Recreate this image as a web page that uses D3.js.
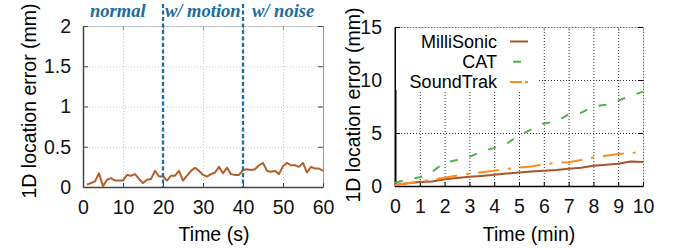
<!DOCTYPE html>
<html>
<head>
<meta charset="utf-8">
<script src="https://cdn.jsdelivr.net/npm/d3@7"></script>
<style>
  body { margin: 0; background: #fff; }
  svg { display: block; font-family: "Liberation Sans", Arial, sans-serif; }
</style>
</head>
<body>
<svg id="chart" width="680" height="248"></svg>
<script>
// left panel: error over time (s), three phases
const secTimes = [1,2,3,4,5,6,7,8,9,10,11,12,13,14,15,16,17,18,19,20,
  21,22,23,24,25,26,27,28,29,30,31,32,33,34,35,36,37,38,39,40,
  41,42,43,44,45,46,47,48,49,50,51,52,53,54,55,56,57,58,59,60]
const secErrors = [0.03,0.05,0.07,0.17,0.01,0.09,0.11,0.08,0.08,0.08,
  0.15,0.14,0.16,0.10,0.05,0.09,0.10,0.20,0.13,0.13,
  0.08,0.14,0.14,0.20,0.08,0.14,0.20,0.24,0.20,0.15,
  0.13,0.16,0.18,0.25,0.17,0.24,0.16,0.15,0.15,0.21,
  0.22,0.21,0.22,0.27,0.30,0.20,0.19,0.20,0.16,0.26,
  0.30,0.27,0.27,0.25,0.30,0.18,0.25,0.23,0.23,0.20]
const phaseBreaks = [20, 40]
const phaseLabels = ['normal', 'w/ motion', 'w/ noise']
const phaseLabelX = [0, 20, 40]
const leftXTicks = [0, 10, 20, 30, 40, 50, 60]
const leftYTicks = [0, 0.5, 1, 1.5, 2]

// right panel: drift over time (min)
const minTimes = [0,0.5,1,1.5,2,2.5,3,3.5,4,4.5,5,5.5,6,6.5,7,7.5,8,8.5,9,9.5,10]
const milliSonic = [0.1,0.25,0.38,0.42,0.63,0.75,0.87,0.95,1.05,1.17,1.27,1.36,1.45,1.5,1.62,1.72,1.9,2.0,2.1,2.3,2.27]
const cat = [0.3,0.6,0.82,1.35,2.2,2.45,2.75,3.25,3.6,4.0,4.75,5.35,5.9,6.1,6.75,6.9,7.5,7.67,8.05,8.5,8.9]
const soundTrak = [0.1,0.25,0.4,0.62,0.77,0.98,1.15,1.3,1.45,1.62,1.73,1.85,2.05,2.18,2.25,2.45,2.68,2.85,3.02,3.1,3.25]
const seriesNames = ['MilliSonic', 'CAT', 'SoundTrak']
const rightXTicks = [0,1,2,3,4,5,6,7,8,9,10]
const rightYTicks = [0, 5, 10, 15]

const svg = d3.select('#chart')
const fontSize = 19.5

const drawFrame = (g, x, y, xTicks, yTicks, opt) => {
  const [x0, x1] = x.range()
  const [y0, y1] = y.range()
  // grid
  g.append('g')
    .attr('transform', `translate(0,${y0})`)
    .call(d3.axisBottom(x).tickValues(xTicks).tickSize(y1 - y0).tickFormat(''))
    .call(a => a.select('.domain').remove())
    .call(a => a.selectAll('.tick line').attr('stroke', opt.grid).attr('stroke-dasharray', '1,2'))
  g.append('g')
    .attr('transform', `translate(${x0},0)`)
    .call(d3.axisRight(y).tickValues(yTicks).tickSize(x1 - x0).tickFormat(''))
    .call(a => a.select('.domain').remove())
    .call(a => a.selectAll('.tick line').attr('stroke', opt.grid).attr('stroke-dasharray', '1,2'))
  // top / right borders with inward ticks
  g.append('g')
    .attr('transform', `translate(0,${y1})`)
    .call(d3.axisBottom(x).tickValues(xTicks).tickSizeInner(4).tickSizeOuter(0).tickFormat(''))
    .call(a => a.select('.domain').attr('stroke', opt.border).attr('stroke-dasharray', '1,1'))
    .call(a => a.selectAll('.tick line').attr('stroke', opt.border))
  g.append('g')
    .attr('transform', `translate(${x1},0)`)
    .call(d3.axisLeft(y).tickValues(yTicks).tickSizeInner(5).tickSizeOuter(0).tickFormat(''))
    .call(a => a.select('.domain').attr('stroke', opt.border).attr('stroke-dasharray', opt.borderDash))
    .call(a => a.selectAll('.tick line').attr('stroke', opt.axis))
  // bottom / left axes with labels
  g.append('g')
    .attr('transform', `translate(0,${y0})`)
    .call(d3.axisBottom(x).tickValues(xTicks).tickSizeInner(-4).tickSizeOuter(0).tickPadding(13))
    .call(a => a.select('.domain').attr('stroke', opt.axis).attr('stroke-width', 1.5))
    .call(a => a.selectAll('.tick line').attr('stroke', opt.axis))
    .call(a => a.selectAll('text').attr('font-size', fontSize).attr('font-family', null).attr('fill', '#111'))
  g.append('g')
    .attr('transform', `translate(${x0},0)`)
    .call(d3.axisLeft(y).tickValues(yTicks).tickFormat(d3.format('')).tickSizeInner(-5).tickSizeOuter(0).tickPadding(opt.yPad))
    .call(a => a.select('.domain').attr('stroke', opt.axis).attr('stroke-width', opt.leftWidth))
    .call(a => a.selectAll('.tick line').attr('stroke', opt.axis))
    .call(a => a.selectAll('text').attr('font-size', fontSize).attr('font-family', null).attr('fill', '#111'))
}

// left
const xL = d3.scaleLinear().domain([0, 60]).range([83, 323])
const yL = d3.scaleLinear().domain([0, 2]).range([187, 26])
const gL = svg.append('g')
drawFrame(gL, xL, yL, leftXTicks, leftYTicks,
  { grid: '#c8c8c8', border: '#999', borderDash: null, axis: '#444', leftWidth: 1.5, yPad: 12 })

gL.append('path')
  .datum(secTimes.map((t, i) => [t, secErrors[i]]))
  .attr('fill', 'none')
  .attr('stroke', '#b45f2b')
  .attr('stroke-width', 2)
  .attr('stroke-linejoin', 'round')
  .attr('d', d3.line().x(d => xL(d[0])).y(d => yL(d[1])))

phaseBreaks.forEach(b => {
  gL.append('line')
    .attr('x1', xL(b)).attr('x2', xL(b))
    .attr('y1', 4).attr('y2', yL(0))
    .attr('stroke', '#1a6ea0')
    .attr('stroke-width', 2.3)
    .attr('stroke-dasharray', '4,2.5')
})

const phaseShift = [7, 2, 9]
gL.selectAll('.phase')
  .data(phaseLabels)
  .enter().append('text')
  .attr('x', (d, i) => xL(phaseLabelX[i]) + phaseShift[i])
  .attr('y', 17)
  .attr('font-family', '"Liberation Serif", "Times New Roman", serif')
  .attr('font-style', 'italic')
  .attr('font-weight', 'bold')
  .attr('font-size', 18.5)
  .attr('fill', '#1b6c9c')
  .text(d => d)

gL.append('text')
  .attr('transform', 'translate(36,101) rotate(-90)')
  .attr('text-anchor', 'middle')
  .attr('font-size', fontSize)
  .text('1D location error (mm)')
gL.append('text')
  .attr('x', 214).attr('y', 241)
  .attr('text-anchor', 'middle')
  .attr('font-size', fontSize)
  .text('Time (s)')

// right
const xR = d3.scaleLinear().domain([0, 10]).range([395, 643])
const yR = d3.scaleLinear().domain([0, 15]).range([186, 27])
const gR = svg.append('g')
drawFrame(gR, xR, yR, rightXTicks, rightYTicks,
  { grid: '#333', border: '#999', borderDash: '1,1', axis: '#000', leftWidth: 2, yPad: 13 })

const styles = [
  { color: '#a9532a', dash: null },
  { color: '#52b04a', dash: '8,12' },
  { color: '#ff8c14', dash: '21,9,3,9' }
]
const seriesVals = [milliSonic, cat, soundTrak]

// legend box hides the grid behind it
gR.append('rect')
  .attr('x', xR(0) + 1).attr('y', yR(15) + 1)
  .attr('width', 142).attr('height', 62)
  .attr('fill', '#fff')

const lineR = d3.line().x(d => xR(d[0])).y(d => yR(d[1]))
seriesVals.forEach((vals, i) => {
  gR.append('path')
    .datum(minTimes.map((t, j) => [t, vals[j]]))
    .attr('fill', 'none')
    .attr('stroke', styles[i].color)
    .attr('stroke-width', 2)
    .attr('stroke-dasharray', styles[i].dash)
    .attr('d', lineR)
})

seriesNames.forEach((name, i) => {
  const by = 47.5 + i * 20.2
  gR.append('text')
    .attr('x', 497).attr('y', by)
    .attr('text-anchor', 'end')
    .attr('font-size', 18)
    .text(name)
  gR.append('line')
    .attr('x1', 510).attr('x2', 528)
    .attr('y1', by - 6).attr('y2', by - 6)
    .attr('stroke', styles[i].color)
    .attr('stroke-width', 2)
    .attr('stroke-dasharray', i === 1 ? '0,3,8,10' : (i === 2 ? '12,3,3,3' : null))
})

gR.append('text')
  .attr('transform', 'translate(360,105) rotate(-90)')
  .attr('text-anchor', 'middle')
  .attr('font-size', fontSize)
  .text('1D location error (mm)')
gR.append('text')
  .attr('x', 529).attr('y', 241)
  .attr('text-anchor', 'middle')
  .attr('font-size', fontSize)
  .text('Time (min)')
</script>
</body>
</html>
